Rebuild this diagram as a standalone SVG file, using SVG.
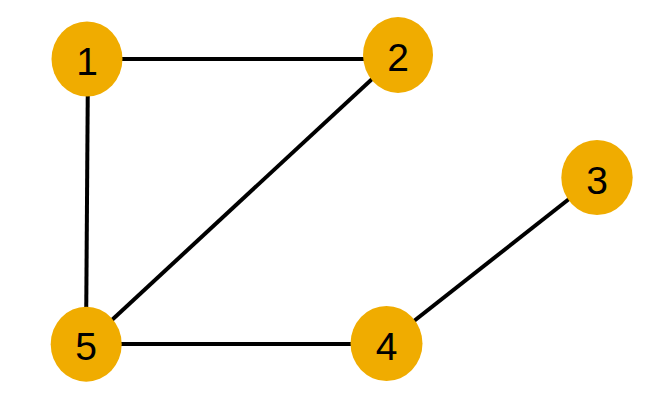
<svg xmlns="http://www.w3.org/2000/svg" width="665" height="415" viewBox="0 0 665 415">
<style>
.edge{stroke:#000;stroke-width:4;fill:none}
.node ellipse{fill:#F0AC00}
.node text{font-family:"Liberation Sans",Arial,sans-serif;font-size:39px;fill:#000;text-anchor:middle}
</style>
<rect width="665" height="415" fill="#fff"/>
<g id="connectors">
<line class="edge" x1="87" y1="59" x2="398" y2="59"/>
<line class="edge" x1="88" y1="59" x2="86" y2="344"/>
<line class="edge" x1="398" y1="55" x2="86" y2="344"/>
<line class="edge" x1="86" y1="344" x2="386" y2="344"/>
<line class="edge" x1="386" y1="343" x2="597" y2="177"/>
</g>
<g id="node1" class="node"><ellipse cx="87" cy="59" rx="35.5" ry="37.5"/><text x="87" y="75">1</text></g>
<g id="node2" class="node"><ellipse cx="398" cy="55" rx="35" ry="38"/><text x="398" y="71">2</text></g>
<g id="node3" class="node"><ellipse cx="597" cy="177.5" rx="35.7" ry="37.5"/><text x="597" y="193.5">3</text></g>
<g id="node4" class="node"><ellipse cx="386.5" cy="343.5" rx="36" ry="37.5"/><text x="386.5" y="359.5">4</text></g>
<g id="node5" class="node"><ellipse cx="86.2" cy="344.2" rx="35.5" ry="37.5"/><text x="86.2" y="360.2">5</text></g>
</svg>
